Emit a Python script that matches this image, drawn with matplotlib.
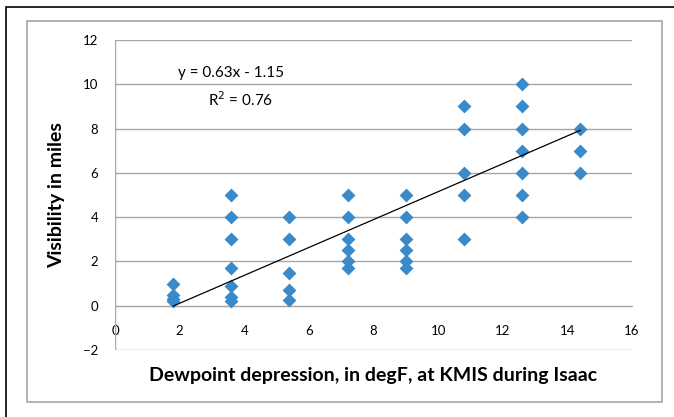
import matplotlib
matplotlib.use('Agg')
import matplotlib.pyplot as plt
from matplotlib.patches import Rectangle

# dewpoint depression (degF) and visibility (miles)
dewpoint = [1.8, 1.8, 1.8, 1.8,
            3.6, 3.6, 3.6, 3.6, 3.6, 3.6, 3.6,
            5.4, 5.4, 5.4, 5.4, 5.4,
            7.2, 7.2, 7.2, 7.2, 7.2, 7.2,
            9.0, 9.0, 9.0, 9.0, 9.0, 9.0,
            10.8, 10.8, 10.8, 10.8, 10.8,
            12.6, 12.6, 12.6, 12.6, 12.6, 12.6, 12.6,
            14.4, 14.4, 14.4]
visibility = [1.0, 0.5, 0.3, 0.2,
              5, 4, 3, 1.7, 0.9, 0.4, 0.2,
              4, 3, 1.5, 0.7, 0.25,
              5, 4, 3, 2.5, 2, 1.7,
              5, 4, 3, 2.5, 2, 1.7,
              9, 8, 6, 5, 3,
              10, 9, 8, 7, 6, 5, 4,
              8, 7, 6]

slope = 0.63
intercept = -1.15
r_squared = 0.76
xticks = [0, 2, 4, 6, 8, 10, 12, 14, 16]
yticks = [-2, 0, 2, 4, 6, 8, 10, 12]

plt.rcParams['font.family'] = ['Lato', 'DejaVu Sans']

W, H = 674, 417
fig = plt.figure(figsize=(W / 100, H / 100), dpi=100)

# outer frame (black, only left/top visible) and chart area frame (gray)
fig.patches.append(Rectangle((5.5 / W, -0.2), 1.5, 1.2 - 7 / H, transform=fig.transFigure,
                             fill=False, edgecolor='black', linewidth=1.2))
fig.patches.append(Rectangle((27 / W, 1 - 402 / H), (662 - 27) / W, (402 - 21) / H,
                             transform=fig.transFigure, fill=False,
                             edgecolor='#A6A6A6', linewidth=1.2))

ax = fig.add_axes([115 / W, 1 - 350 / H, 517 / W, 310 / H])
ax.set_xlim(0, 16)
ax.set_ylim(-2, 12)

for s in ax.spines.values():
    s.set_visible(False)
ax.set_yticks(yticks)
ax.set_xticks(xticks)
ax.grid(axis='y', color='#A6A6A6', linewidth=1)
ax.set_axisbelow(True)
ax.axvline(0, color='#A6A6A6', linewidth=1)
ax.tick_params(axis='both', length=0, labelsize=9.5, colors='black')
ax.tick_params(axis='y', pad=12)
ax.tick_params(axis='x', pad=14)
ax.spines['bottom'].set_position(('data', 0))
ax.spines['bottom'].set_visible(True)
ax.spines['bottom'].set_color('#A6A6A6')

ax.scatter(dewpoint, visibility, marker='D', s=50, color='#3A89C9', zorder=3, linewidths=0)

x0, x1 = min(dewpoint), max(dewpoint)
ax.plot([x0, x1], [slope * x0 + intercept, slope * x1 + intercept],
        color='black', linewidth=0.9, zorder=4)

ax.text(3.6, 10.5, f'y = {slope:.2f}x - {abs(intercept):.2f}', fontsize=11,
        ha='center', va='center')
ax.text(3.9, 9.3, f'R$^2$ = {r_squared:.2f}', fontsize=11, ha='center', va='center')

fig.text(373 / W, 1 - 376 / H, 'Dewpoint depression, in degF, at KMIS during Isaac',
         fontsize=14, fontweight='bold', ha='center', va='center')
fig.text(57 / W, 1 - 195 / H, 'Visibility in miles', fontsize=14, fontweight='bold',
         rotation=90, ha='center', va='center')

fig.savefig('out.png', dpi=100)
